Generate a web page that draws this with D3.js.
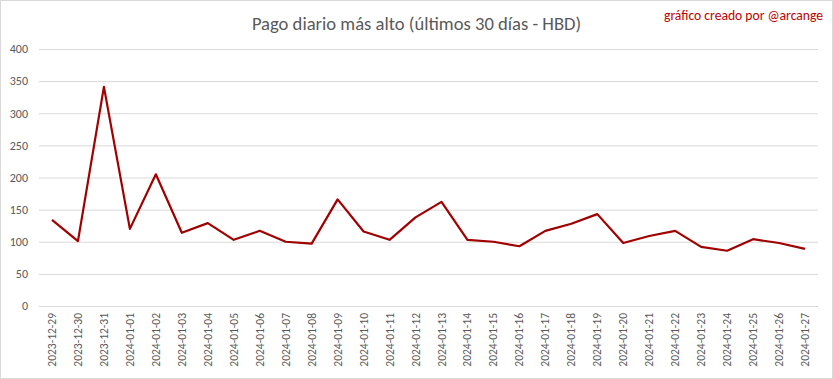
<!DOCTYPE html>
<html><head><meta charset="utf-8">
<script src="https://cdn.jsdelivr.net/npm/d3@7"></script>
<style>body{margin:0;background:#fff;} svg{display:block;}</style>
</head><body>
<script>
const dates = ["2023-12-29","2023-12-30","2023-12-31","2024-01-01","2024-01-02","2024-01-03","2024-01-04","2024-01-05","2024-01-06","2024-01-07","2024-01-08","2024-01-09","2024-01-10","2024-01-11","2024-01-12","2024-01-13","2024-01-14","2024-01-15","2024-01-16","2024-01-17","2024-01-18","2024-01-19","2024-01-20","2024-01-21","2024-01-22","2024-01-23","2024-01-24","2024-01-25","2024-01-26","2024-01-27"];
const values = [134,101,341,120,205,114,129,103,117,100,97,166,116,103,138,162,103,100,93,117,128,143,98,109,117,92,86,104,98,89];
const yTicks = [0,50,100,150,200,250,300,350,400];
const title = "Pago diario más alto (últimos 30 días - HBD)";
const credit = "gráfico creado por @arcange";

const W=833,H=379;
const svg=d3.select("body").append("svg").attr("width",W).attr("height",H);
svg.append("rect").attr("x",0.5).attr("y",0.5).attr("width",W-1).attr("height",H-1).attr("fill","#fff").attr("stroke","#d9d9d9");

const x=d3.scaleBand().domain(dates).range([39,818]);
const y=d3.scaleLinear().domain([0,400]).range([306,49]);
const font="Carlito, 'Liberation Sans', Arial, sans-serif";

const ga=svg.append("g").attr("transform","translate(39,0)").call(d3.axisLeft(y).tickValues(yTicks).tickSize(-779).tickPadding(11));
ga.select(".domain").remove();
ga.selectAll(".tick line").attr("stroke","#d9d9d9").attr("stroke-width",1);
ga.selectAll(".tick text").attr("fill","#595959").style("font-family",font).style("font-size","12px");

const gx=svg.append("g").attr("transform","translate(0,306)").call(d3.axisBottom(x).tickSize(0));
gx.select(".domain").remove();
gx.selectAll(".tick text").attr("fill","#595959").style("font-family",font).style("font-size","11.5px")
  .attr("transform","rotate(-90)").attr("text-anchor","end").attr("x",-7).attr("y",0).attr("dy","0.35em");

const line=d3.line().x(d=>x(d.d)+x.bandwidth()/2).y(d=>y(d.v));
svg.append("path").datum(dates.map((d,i)=>({d,v:values[i]}))).attr("d",line)
  .attr("fill","none").attr("stroke","#a00000").attr("stroke-width",2.2).attr("stroke-linejoin","round");

svg.append("text").attr("x",416.5).attr("y",30).attr("text-anchor","middle").attr("fill","#595959")
  .style("font-family",font).style("font-size","18.6px").text(title);
svg.append("text").attr("x",823).attr("y",20).attr("text-anchor","end").attr("fill","#c00000")
  .style("font-family",font).style("font-size","13.6px").text(credit);
</script>
</body></html>
